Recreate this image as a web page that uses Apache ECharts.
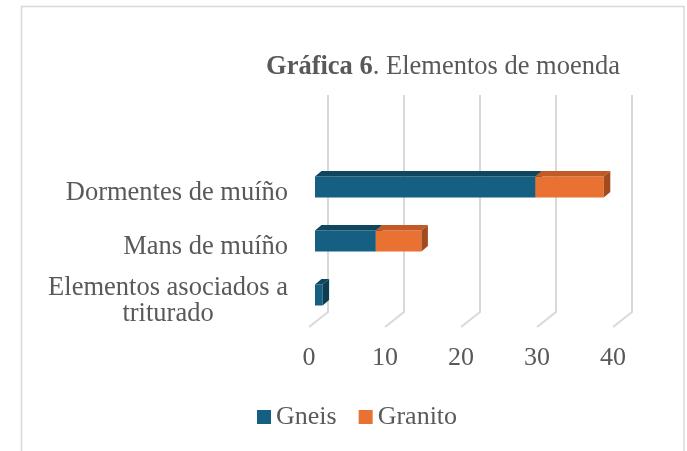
<!DOCTYPE html>
<html>
<head>
<meta charset="utf-8">
<script src="https://cdn.jsdelivr.net/npm/echarts@6/dist/echarts.min.js"></script>
<style>
  html, body { margin: 0; padding: 0; background: #fff; }
  #main { width: 687px; height: 451px; }
</style>
</head>
<body>
<div id="main"></div>
<script>
// datos da gráfica
var categorias = ['Dormentes de muíño', 'Mans de muíño', 'Elementos asociados a\ntriturado'];
var gneis = [29, 8, 1];
var granito = [9, 6, 0];
var ticks = [0, 10, 20, 30, 40];

var fonte = "'Liberation Serif', 'Times New Roman', serif";
var gris = '#595959';

// cores: fronte, tapa, lado
var coresGneis = ['#156082', '#0f4761', '#0d3d53'];
var coresGranito = ['#e97132', '#c15a24', '#a24b1e'];

var fondo = 6.5; // desprazamento da profundidade
var alto = 5.5;

function barra3d(cores) {
    return function (params, api) {
        var ini = api.value(0);
        var fin = api.value(1);
        var cat = api.value(2);
        if (fin - ini <= 0) return null;
        var a = api.coord([ini, cat]);
        var b = api.coord([fin, cat]);
        var h = 21;
        var x0 = a[0], x1 = b[0];
        var y0 = a[1] - h / 2, y1 = a[1] + h / 2;
        return {
            type: 'group',
            children: [
                {
                    type: 'rect',
                    shape: { x: x0, y: y0, width: x1 - x0, height: h },
                    style: { fill: cores[0] }
                },
                {
                    type: 'polygon',
                    shape: { points: [[x0, y0], [x0 + fondo, y0 - alto], [x1 + fondo, y0 - alto], [x1, y0]] },
                    style: { fill: cores[1] }
                },
                {
                    type: 'polygon',
                    shape: { points: [[x1, y0], [x1 + fondo, y0 - alto], [x1 + fondo, y1 - alto], [x1, y1]] },
                    style: { fill: cores[2] }
                }
            ]
        };
    };
}

var datosGneis = [];
var datosGranito = [];
for (var i = 0; i < categorias.length; i++) {
    datosGneis.push([0, gneis[i], i]);
    datosGranito.push([gneis[i], gneis[i] + granito[i], i]);
}

var chart = echarts.init(document.getElementById('main'));
var option = {
    animation: false,
    backgroundColor: '#fff',
    textStyle: { fontFamily: fonte },
    graphic: [{
        type: 'rect',
        shape: { x: 21.5, y: 6.5, width: 662.5, height: 500 },
        style: { fill: 'none', stroke: '#d9d9d9', lineWidth: 1.5 },
        z: -10
    }],
    title: {
        text: '{b|Gráfica 6}{n|. Elementos de moenda}',
        left: 438,
        top: 49,
        textAlign: 'center',
        textStyle: {
            fontWeight: 'normal',
            rich: {
                b: { fontFamily: fonte, fontSize: 26.5, fontWeight: 'bold', color: gris, lineHeight: 26 },
                n: { fontFamily: fonte, fontSize: 26.5, fontWeight: 'normal', color: gris, lineHeight: 26 }
            }
        }
    },
    legend: {
        left: 252,
        top: 399,
        itemWidth: 14,
        itemHeight: 14,
        itemGap: 22,
        icon: 'rect',
        data: ['Gneis', 'Granito'],
        textStyle: { fontFamily: fonte, fontSize: 26, color: gris }
    },
    grid: [
        { left: 309, width: 304, top: 166, height: 162 },   // plano frontal (etiquetas)
        { left: 328, width: 304, top: 95, height: 217 },    // parede do fondo
        { left: 315, width: 304, top: 160, height: 162 }    // barras
    ],
    xAxis: [
        {
            gridIndex: 0, type: 'value', min: 0, max: 40, interval: 10,
            axisLine: { show: false }, axisTick: { show: false }, splitLine: { show: false },
            axisLabel: { margin: 17, fontSize: 26, color: gris, fontFamily: fonte }
        },
        { gridIndex: 1, type: 'value', min: 0, max: 40, interval: 10, show: false },
        { gridIndex: 2, type: 'value', min: 0, max: 40, interval: 10, show: false }
    ],
    yAxis: [
        {
            gridIndex: 0, type: 'category', inverse: true, data: categorias,
            axisLine: { show: false }, axisTick: { show: false },
            axisLabel: {
                margin: 21, align: 'right',
                formatter: function (v) {
                    return v.split('\n').map(function (l) { return '{c|' + l + '}'; }).join('\n');
                },
                rich: {
                    c: { fontSize: 26.5, lineHeight: 26, color: gris, fontFamily: fonte, align: 'center' }
                }
            }
        },
        { gridIndex: 1, type: 'value', min: 0, max: 1, show: false },
        { gridIndex: 2, type: 'category', inverse: true, data: categorias, show: false }
    ],
    series: [
        {
            type: 'custom',
            name: 'parede',
            xAxisIndex: 1, yAxisIndex: 1,
            silent: true,
            data: ticks.map(function (t) { return [t]; }),
            renderItem: function (params, api) {
                var arriba = api.coord([api.value(0), 1]);
                var abaixo = api.coord([api.value(0), 0]);
                return {
                    type: 'polyline',
                    shape: { points: [arriba, abaixo, [abaixo[0] - 19, abaixo[1] + 15]] },
                    style: { stroke: '#d9d9d9', lineWidth: 2, fill: 'none' }
                };
            },
            z: 1
        },
        {
            type: 'custom',
            name: 'Gneis',
            xAxisIndex: 2, yAxisIndex: 2,
            itemStyle: { color: coresGneis[0] },
            data: datosGneis,
            renderItem: barra3d(coresGneis),
            z: 2
        },
        {
            type: 'custom',
            name: 'Granito',
            xAxisIndex: 2, yAxisIndex: 2,
            itemStyle: { color: coresGranito[0] },
            data: datosGranito,
            renderItem: barra3d(coresGranito),
            z: 3
        }
    ]
};
chart.setOption(option);
</script>
</body>
</html>
